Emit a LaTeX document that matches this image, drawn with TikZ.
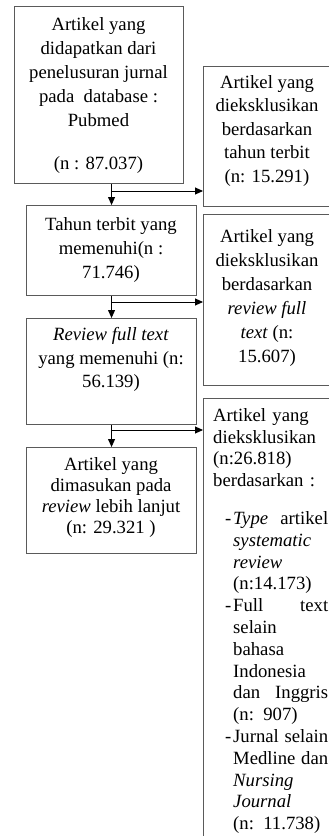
\documentclass[tikz,border=0pt]{standalone}
\usepackage{fontspec}
\setmainfont{Liberation Serif}
\usetikzlibrary{arrows.meta}
\definecolor{boxgray}{HTML}{5A5A5A}
\setlength{\parindent}{0pt}
\newcommand{\fullline}[2]{\makebox[95pt][l]{#1\hfill#2}}

\begin{document}
\begin{tikzpicture}
        [x=1pt, y=-1pt,
        box/.style={draw=boxgray, line width=1.1pt, inner sep=0pt, anchor=north west},
        txt/.style={inner sep=0pt, anchor=north, align=center, font=\fontsize{18.7}{24}\selectfont},
        arr/.style={-{Triangle[length=8pt, width=7pt]}, line width=0.9pt, black}]

        \useasboundingbox (0,0) rectangle (329,836);
        \clip (0,0) rectangle (329,836);

        % left column
        \node[box, minimum width=169pt, minimum height=177pt] (pub) at (14,6) {};
        \node[box, minimum width=170pt, minimum height=90pt] (thn) at (26,205) {};
        \node[box, minimum width=170pt, minimum height=106pt] (rev) at (26,318) {};
        \node[box, minimum width=170pt, minimum height=106pt] (inc) at (26,447) {};

        % right column (cut off by the page edge)
        \node[box, minimum width=130pt, minimum height=140pt] (ex1) at (203,66) {};
        \node[box, minimum width=130pt, minimum height=171pt] (ex2) at (203,214) {};
        \node[box, minimum width=130pt, minimum height=460pt] (ex3) at (203,398) {};

        % texts
        \node[txt] (pubtext) at (98.5,17.2) {Artikel yang\\ didapatkan dari\\ penelusuran jurnal\\ pada~ database :\\ Pubmed\\[19pt] (n : 87.037)};
        \node[txt] (thntext) at (111,217.2) {Tahun terbit yang\\ memenuhi(n :\\ 71.746)};
        \node[txt, font=\fontsize{18.7}{23.5}\selectfont] (revtext) at (111,327.2) {\textit{Review full text}\\ yang memenuhi (n:\\ 56.139)};
        \node[txt, font=\fontsize{18.7}{21}\selectfont] (inctext) at (111,457.2) {Artikel yang\\ dimasukan pada\\ \textit{review} lebih lanjut\\ (n: 29.321 )};
        \node[txt, font=\fontsize{18.7}{23.5}\selectfont] (ex1text) at (267,75.2) {Artikel yang\\ dieksklusikan\\ berdasarkan\\ tahun terbit\\ (n: 15.291)};
        \node[txt] (ex2text) at (267,229.2) {Artikel yang\\ dieksklusikan\\ berdasarkan\\ \textit{review full}\\ \textit{text} (n:\\ 15.607)};
        \node[txt, anchor=north west, align=left, text width=120pt, font=\fontsize{18.7}{21.8}\selectfont] (ex3text) at (213,408.2) {Artikel yang\\
        dieksklusikan\\
        (n:26.818)\\
        berdasarkan :\\[16pt]
        \hspace*{12pt}\makebox[8pt][l]{-}\fullline{\textit{Type}}{artikel}\\
        \hspace*{20pt}\textit{systematic}\\
        \hspace*{20pt}\textit{review}\\
        \hspace*{20pt}(n:14.173)\\
        \hspace*{12pt}\makebox[8pt][l]{-}\fullline{Full}{text}\\
        \hspace*{20pt}selain\\
        \hspace*{20pt}bahasa\\
        \hspace*{20pt}Indonesia\\
        \hspace*{20pt}\fullline{dan}{Inggris}\\
        \hspace*{20pt}(n: 907)\\
        \hspace*{12pt}\makebox[8pt][l]{-}\fullline{Jurnal}{selain}\\
        \hspace*{20pt}\fullline{Medline}{dan}\\
        \hspace*{20pt}\textit{Nursing}\\
        \hspace*{20pt}\textit{Journal}\\
        \hspace*{20pt}(n: 11.738)};

        % arrows down and branches to the right
        \coordinate (j1) at (111,191);
        \coordinate (j2) at (111,302);
        \coordinate (j3) at (111,430);
        \draw[arr] (thn.north |- pub.south) -- (thn.north);
        \draw[arr] (j1) -- (j1 -| ex1.west);
        \draw[arr] (rev.north |- thn.south) -- (rev.north);
        \draw[arr] (j2) -- (j2 -| ex2.west);
        \draw[arr] (inc.north |- rev.south) -- (inc.north);
        \draw[arr] (j3) -- (j3 -| ex3.west);

        \end{tikzpicture}
\end{document}
